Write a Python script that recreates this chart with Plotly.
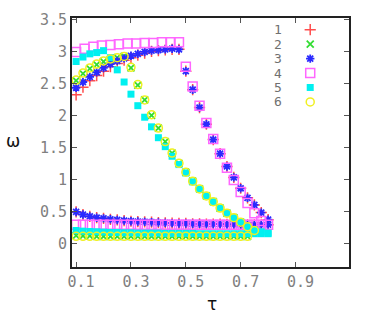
import plotly.graph_objects as go

# ---------------- data ----------------
series_labels = ["1", "2", "3", "4", "5", "6"]

tau_up16 = [0.1, 0.125, 0.15, 0.175, 0.2, 0.225, 0.25, 0.275, 0.3, 0.325,
            0.35, 0.375, 0.4, 0.425, 0.45, 0.475]
tau_low29 = [0.1, 0.125, 0.15, 0.175, 0.2, 0.225, 0.25, 0.275, 0.3, 0.325,
             0.35, 0.375, 0.4, 0.425, 0.45, 0.475, 0.5, 0.525, 0.55, 0.575,
             0.6, 0.625, 0.65, 0.675, 0.7, 0.725, 0.75, 0.775, 0.8]
tau_diag_b = [0.5, 0.525, 0.55, 0.575, 0.6, 0.625, 0.65, 0.675, 0.7, 0.725,
              0.75, 0.775, 0.8]

# series 1 (red +)
tau1 = tau_up16 + tau_diag_b + tau_low29
w1 = ([2.33, 2.45, 2.55, 2.63, 2.70, 2.77, 2.82, 2.87, 2.91, 2.95, 2.98, 3.01,
       3.02, 3.03, 3.04, 3.04]
      + [2.70, 2.41, 2.13, 1.87, 1.63, 1.41, 1.21, 1.04, 0.87, 0.72, 0.61, 0.49, 0.38]
      + [0.50, 0.46, 0.43, 0.41, 0.40, 0.385, 0.375, 0.365, 0.355, 0.35, 0.345,
         0.34, 0.335, 0.33, 0.325, 0.32, 0.32, 0.315, 0.315, 0.31, 0.31, 0.31,
         0.305, 0.305, 0.30, 0.30, 0.30, 0.30, 0.30])

# series 2 (green x)
tau2 = ([0.1, 0.125, 0.15, 0.175, 0.2, 0.225, 0.25, 0.275]
        + [0.3, 0.325, 0.35, 0.375, 0.4, 0.425, 0.45, 0.475, 0.5, 0.525, 0.55,
           0.575, 0.6, 0.625, 0.65, 0.675, 0.7, 0.725, 0.75]
        + tau_low29[:26])
w2 = ([2.55, 2.66, 2.74, 2.80, 2.85, 2.88, 2.91, 2.93]
      + [2.75, 2.48, 2.25, 2.01, 1.81, 1.60, 1.42, 1.26, 1.12, 0.98, 0.86, 0.75,
         0.66, 0.56, 0.48, 0.41, 0.34, 0.27, 0.21]
      + [0.13, 0.125, 0.125, 0.12, 0.12, 0.12, 0.12, 0.12, 0.12, 0.12, 0.12, 0.12,
         0.12, 0.12, 0.12, 0.12, 0.12, 0.12, 0.12, 0.12, 0.12, 0.12, 0.12, 0.12,
         0.12, 0.12])

# series 3 (blue *)
tau3 = tau_up16 + tau_diag_b + tau_low29
w3 = ([2.44, 2.53, 2.61, 2.68, 2.75, 2.81, 2.86, 2.90, 2.94, 2.97, 3.00, 3.02,
       3.03, 3.04, 3.05, 3.04]
      + [2.70, 2.41, 2.13, 1.87, 1.63, 1.41, 1.21, 1.04, 0.87, 0.72, 0.61, 0.49, 0.38]
      + [0.50, 0.46, 0.43, 0.41, 0.40, 0.385, 0.375, 0.365, 0.355, 0.35, 0.345,
         0.34, 0.335, 0.33, 0.325, 0.32, 0.32, 0.315, 0.315, 0.31, 0.31, 0.31,
         0.305, 0.305, 0.30, 0.30, 0.30, 0.30, 0.30])

# series 4 (magenta open square)
tau4 = ([0.1, 0.131, 0.163, 0.194, 0.225, 0.256, 0.288, 0.319, 0.35, 0.381,
         0.413, 0.444, 0.475]
        + tau_diag_b[:12]
        + tau_low29)
w4 = ([3.00, 3.05, 3.08, 3.10, 3.11, 3.12, 3.13, 3.13, 3.14, 3.14, 3.15, 3.15, 3.15]
      + [2.77, 2.46, 2.16, 1.89, 1.64, 1.41, 1.19, 1.00, 0.81, 0.64, 0.48, 0.36]
      + [0.30, 0.30, 0.30, 0.30, 0.30, 0.30, 0.30, 0.30, 0.30, 0.30, 0.30, 0.30,
         0.30, 0.30, 0.30, 0.30, 0.30, 0.30, 0.30, 0.30, 0.30, 0.30, 0.30, 0.30,
         0.30, 0.30, 0.30, 0.30, 0.30])

# series 5 (cyan filled square)
tau5 = ([0.1, 0.125, 0.15, 0.175, 0.2]
        + [0.225, 0.25, 0.275, 0.3, 0.325, 0.35, 0.375, 0.4, 0.425, 0.45, 0.475,
           0.5, 0.525, 0.55, 0.575, 0.6, 0.625, 0.65, 0.675, 0.7, 0.725, 0.75,
           0.775, 0.8]
        + tau_low29)
w5 = ([2.85, 2.92, 2.97, 2.99, 3.02]
      + [2.91, 2.72, 2.53, 2.34, 2.16, 1.98, 1.83, 1.66, 1.52, 1.37, 1.24, 1.11,
         0.97, 0.86, 0.75, 0.66, 0.56, 0.48, 0.41, 0.34, 0.27, 0.22, 0.19, 0.17]
      + [0.21, 0.20, 0.195, 0.19, 0.185, 0.18, 0.18, 0.175, 0.175, 0.17, 0.17,
         0.17, 0.17, 0.165, 0.165, 0.165, 0.165, 0.165, 0.16, 0.16, 0.16, 0.16,
         0.16, 0.16, 0.16, 0.16, 0.16, 0.16, 0.16])

# series 6 (yellow open circle)
tau6 = ([0.1, 0.125, 0.15, 0.175, 0.2, 0.225, 0.25, 0.275]
        + [0.3, 0.325, 0.35, 0.375, 0.4, 0.425, 0.45, 0.475, 0.5, 0.525, 0.55,
           0.575, 0.6, 0.625, 0.65, 0.675, 0.7, 0.725, 0.75]
        + tau_low29[:26])
w6 = ([2.56, 2.67, 2.75, 2.81, 2.86, 2.89, 2.91, 2.93]
      + [2.76, 2.49, 2.25, 2.02, 1.81, 1.60, 1.42, 1.26, 1.12, 0.98, 0.86, 0.75,
         0.66, 0.56, 0.48, 0.41, 0.34, 0.27, 0.21]
      + [0.12, 0.12, 0.12, 0.12, 0.12, 0.12, 0.12, 0.12, 0.12, 0.12, 0.12, 0.12,
         0.12, 0.12, 0.12, 0.12, 0.12, 0.12, 0.12, 0.12, 0.12, 0.12, 0.12, 0.12,
         0.12, 0.12])

x_ticks = [0.1, 0.3, 0.5, 0.7, 0.9]
x_ticklabels = ["0.1", "0.3", "0.5", "0.7", "0.9"]
y_ticks = [0, 0.5, 1, 1.5, 2, 2.5, 3, 3.5]
y_ticklabels = ["0", "0.5", "1", "1.5", "2", "2.5", "3", "3.5"]

# ---------------- styles ----------------
styles = [
    dict(symbol="cross-thin-open", size=8, color="#ff4d4d", line=dict(width=1.5, color="#ff4d4d")),
    dict(symbol="x-thin-open", size=7, color="#33dd33", line=dict(width=1.8, color="#33dd33")),
    dict(symbol="asterisk-open", size=7, color="#2a2aff", line=dict(width=1.8, color="#2a2aff")),
    dict(symbol="square-open", size=9, color="#ff66ff", line=dict(width=1.5, color="#ff66ff")),
    dict(symbol="square", size=7, color="#00f0f0", line=dict(width=0)),
    dict(symbol="circle-open", size=8, color="#f0f020", line=dict(width=1.5, color="#f0f020")),
]

data_x = [tau1, tau2, tau3, tau4, tau5, tau6]
data_y = [w1, w2, w3, w4, w5, w6]

fig = go.Figure()
for lab, xs, ys, st in zip(series_labels, data_x, data_y, styles):
    fig.add_trace(go.Scatter(x=xs, y=ys, mode="markers", name=lab,
                             marker=st, showlegend=False,
                             xaxis="x", yaxis="y"))

# key (gnuplot style: label on the left, symbol on the right)
key_y0 = 0.953
key_dy = 0.058
for i, (lab, st) in enumerate(zip(series_labels, styles)):
    yk = key_y0 - i * key_dy
    fig.add_trace(go.Scatter(x=[0.86], y=[yk], mode="markers", marker=st,
                             showlegend=False, xaxis="x2", yaxis="y2",
                             hoverinfo="skip"))
    fig.add_annotation(x=0.742, y=yk, xref="paper", yref="paper", text=lab,
                       showarrow=False, xanchor="center", yanchor="middle",
                       font=dict(family="DejaVu Sans Mono", size=13, color="#707070"))

tickfont = dict(family="DejaVu Sans Mono", size=15, color="#808080")
fig.update_layout(
    width=375, height=315,
    margin=dict(l=72, r=26, t=18, b=48),
    paper_bgcolor="white", plot_bgcolor="white",
    showlegend=False,
    xaxis=dict(range=[0.085, 1.095], tickvals=x_ticks, ticktext=x_ticklabels,
               ticks="inside", ticklen=5, tickwidth=1, tickcolor="#555",
               showline=True, linecolor="#222", linewidth=2, mirror="ticks",
               showgrid=False, zeroline=False, tickfont=tickfont,
               ticklabelshift=5),
    yaxis=dict(range=[-0.36, 3.53], tickvals=y_ticks, ticktext=y_ticklabels,
               ticks="inside", ticklen=5, tickwidth=1, tickcolor="#555",
               showline=True, linecolor="#222", linewidth=2, mirror="ticks",
               showgrid=False, zeroline=False, tickfont=tickfont),
    xaxis2=dict(domain=[0, 1], range=[0, 1], overlaying="x", visible=False,
                anchor="y2"),
    yaxis2=dict(domain=[0, 1], range=[0, 1], overlaying="y", visible=False,
                anchor="x2"),
)

fig.add_annotation(x=-0.213, y=0.505, xref="paper", yref="paper", text="ω",
                   showarrow=False, xanchor="center", yanchor="middle",
                   font=dict(family="DejaVu Sans", size=17, color="#111"))
fig.add_annotation(x=0.505, y=-0.148, xref="paper", yref="paper", text="τ",
                   showarrow=False, xanchor="center", yanchor="middle",
                   font=dict(family="DejaVu Sans", size=17, color="#111"))

fig.write_html("out.html")
